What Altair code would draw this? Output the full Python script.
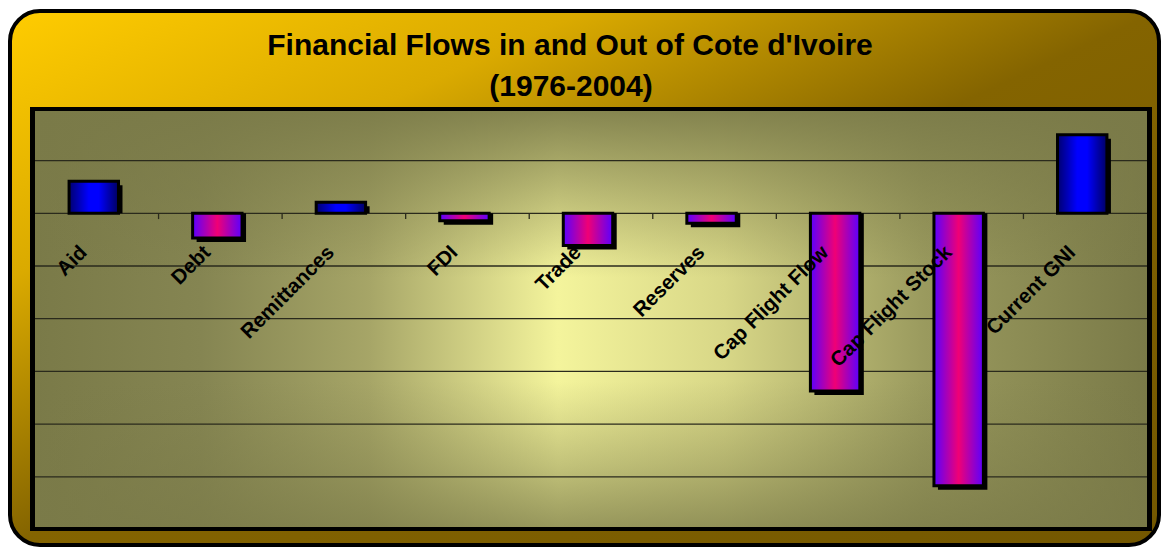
import altair as alt
import pandas as pd

categories = ["Aid", "Debt", "Remittances", "FDI", "Trade", "Reserves",
              "Cap Flight Flow", "Cap Flight Stock", "Current GNI"]
values = [0.61, -0.47, 0.21, -0.14, -0.61, -0.19, -3.37, -5.17, 1.49]
grid_values = [1, 0, -1, -2, -3, -4, -5]
title_lines = ["Financial Flows in and Out of Cote d'Ivoire", "(1976-2004)"]

df = pd.DataFrame({"cat": categories, "value": values})
zero_df = pd.DataFrame({"cat": categories, "zero": [0] * len(categories), "tk": [-0.11] * len(categories)})

W, H = 1112, 416
PL, PT, PR, PB = 27, 103, 14, 20

xscale = alt.Scale(domain=categories, paddingInner=0.6, paddingOuter=0.3)
yscale = alt.Scale(domain=[-5.953, 1.941], nice=False, zero=False)
X = alt.X("cat:N", scale=xscale, axis=None, sort=categories)
Y = alt.Y("value:Q", scale=yscale, axis=None)

one = alt.Data(values=[{"a": 1}])


def stops(pairs):
    return [alt.GradientStop(offset=o, color=c) for o, c in pairs]


frame = alt.Chart(one).mark_rect(
    cornerRadius=30,
    stroke="black",
    strokeWidth=4,
    fill=alt.Gradient(
        gradient="linear", x1=0, y1=0, x2=1, y2=1,
        stops=stops([(0, "#FFCC00"), (0.25, "#DAAA00"), (0.5, "#846400"), (1, "#735700")]),
    ),
).encode(
    x=alt.value(-PL + 2), x2=alt.value(W + PR - 2),
    y=alt.value(-PT + 3), y2=alt.value(H + PB - 2),
)

plot_border = alt.Chart(one).mark_rect(fill="black").encode(
    x=alt.value(-5), x2=alt.value(W + 5),
    y=alt.value(-4), y2=alt.value(H + 4),
)

plot_bg = alt.Chart(one).mark_rect(
    fill=alt.Gradient(
        gradient="linear", x1=0, y1=0, x2=1, y2=0,
        stops=stops([(0, "#7A7A48"), (0.15, "#858552"), (0.3, "#A6A567"),
                     (0.47, "#F4F49C"), (0.62, "#D8D787"), (0.8, "#9A9A5E"),
                     (1, "#7A7A48")]),
    ),
).encode(
    x=alt.value(0), x2=alt.value(W),
    y=alt.value(0), y2=alt.value(H),
)

plot_shade = alt.Chart(one).mark_rect(
    fill=alt.Gradient(
        gradient="linear", x1=0, y1=0, x2=0, y2=1,
        stops=stops([(0, "rgba(122,122,72,0.9)"), (0.2, "rgba(122,122,72,0.45)"),
                     (0.4, "rgba(122,122,72,0)"), (0.65, "rgba(122,122,72,0)"),
                     (0.85, "rgba(122,122,72,0.4)"), (1, "rgba(122,122,72,0.75)")]),
    ),
).encode(
    x=alt.value(0), x2=alt.value(W),
    y=alt.value(0), y2=alt.value(H),
)

grid = alt.Chart(pd.DataFrame({"g": grid_values})).mark_rule(
    color="#2a2a1c", strokeWidth=1.3
).encode(
    y=alt.Y("g:Q", scale=yscale, axis=None),
    x=alt.value(0), x2=alt.value(W),
)

ticks = alt.Chart(zero_df.iloc[1:]).mark_rule(
    color="#2a2a1c", strokeWidth=1.3, xOffset=-W / 9 / 2
).encode(
    x=X,
    y=alt.Y("zero:Q", scale=yscale, axis=None),
    y2="tk:Q",
)

shadow = alt.Chart(df).mark_bar(color="black", xOffset=1, yOffset=4).encode(
    x=X, y=Y, y2=alt.datum(0),
)

pos_grad = alt.Gradient(
    gradient="linear", x1=0, y1=0, x2=1, y2=0,
    stops=stops([(0, "#000070"), (0.4, "#0000FF"), (0.6, "#0000FF"), (1, "#000060")]),
)
neg_grad = alt.Gradient(
    gradient="linear", x1=0, y1=0, x2=1, y2=0,
    stops=stops([(0, "#5A00FF"), (0.5, "#F00075"), (1, "#5A00FF")]),
)

bars_pos = alt.Chart(df).transform_filter("datum.value >= 0").mark_bar(
    fill=pos_grad, stroke="black", strokeWidth=3, xOffset=-3
).encode(x=X, y=Y, y2=alt.datum(0))

bars_neg = alt.Chart(df).transform_filter("datum.value < 0").mark_bar(
    fill=neg_grad, stroke="black", strokeWidth=3, xOffset=-3
).encode(x=X, y=Y, y2=alt.datum(0))

labels = alt.Chart(zero_df).mark_text(
    angle=315, align="right", baseline="top",
    font="Liberation Sans", fontWeight="bold", fontSize=20.5, color="black",
    xOffset=-20, yOffset=29,
).encode(
    x=X, y=alt.Y("zero:Q", scale=yscale, axis=None), text="cat:N",
)

title1 = alt.Chart(one).mark_text(
    font="Liberation Sans", fontWeight="bold", fontSize=30, color="black",
    align="center", baseline="alphabetic", text=title_lines[0],
).encode(x=alt.value(535), y=alt.value(55 - 111))

title2 = alt.Chart(one).mark_text(
    font="Liberation Sans", fontWeight="bold", fontSize=30, color="black",
    align="center", baseline="alphabetic", text=title_lines[1],
).encode(x=alt.value(536), y=alt.value(96 - 111))

chart = alt.layer(
    frame, plot_border, plot_bg, plot_shade, grid, ticks, shadow, bars_pos, bars_neg,
    labels, title1, title2,
).properties(
    width=W, height=H,
    padding={"left": PL, "top": PT, "right": PR, "bottom": PB},
    autosize=alt.AutoSizeParams(type="none"),
    background="white",
).configure_view(stroke=None)

chart.save("out.html", embed_options={"renderer": "svg", "actions": False})
